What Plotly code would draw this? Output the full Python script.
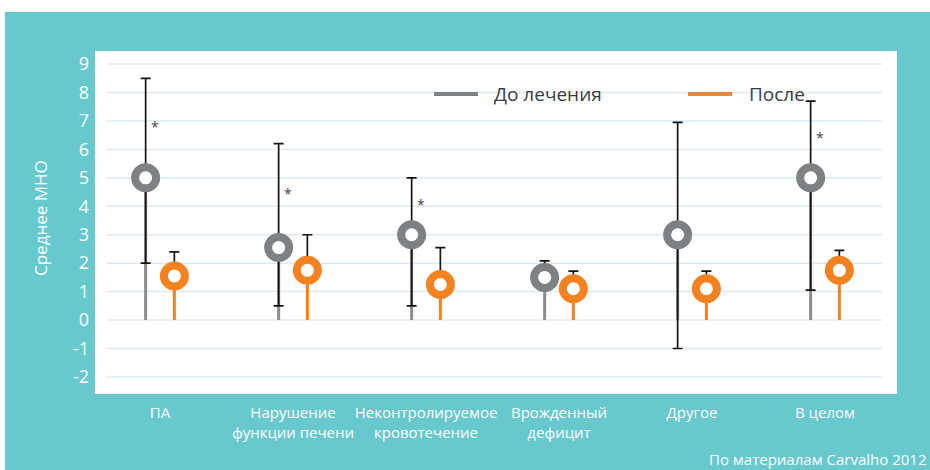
import plotly.graph_objects as go

# Categories and values (mean INR before / after treatment)
categories = ["ПА", "Нарушение<br>функции печени", "Неконтролируемое<br>кровотечение",
              "Врожденный<br>дефицит", "Другое", "В целом"]
before_mean = [5.0, 2.55, 3.0, 1.5, 3.0, 5.0]
before_upper = [8.5, 6.2, 5.0, 2.08, 6.95, 7.7]
before_lower = [2.0, 0.5, 0.5, 1.5, -1.0, 1.05]
after_mean = [1.55, 1.75, 1.25, 1.1, 1.1, 1.75]
after_upper = [2.4, 3.0, 2.55, 1.72, 1.72, 2.45]
significant = [True, True, True, False, False, True]
y_ticks = list(range(-2, 10))
y_tick_labels = [str(v) for v in y_ticks]

TEAL = "#67C8CE"
GRAY = "#7E8184"
STEM_GRAY = "#8B8C8E"
ORANGE = "#F58220"
ERR = "#151515"
FONT = "Open Sans"

# plot area in pixels: left 95, right 897, top 51, bottom 394
L, R, T, B = 95, 897, 51, 394
W, H = R - L, B - T


def px(x):
    return (x - L) / W


def py(y):
    return (B - y) / H


offset = 0.108
xb = [i - offset for i in range(len(categories))]
xa = [i + offset for i in range(len(categories))]


def stems(xs, ys):
    sx, sy = [], []
    for x, y in zip(xs, ys):
        sx += [x, x, None]
        sy += [0, y, None]
    return sx, sy


fig = go.Figure()

sx, sy = stems(xb, before_mean)
fig.add_trace(go.Scatter(x=sx, y=sy, mode="lines", line=dict(color=STEM_GRAY, width=3),
                         hoverinfo="skip", showlegend=False))
sx, sy = stems(xa, after_mean)
fig.add_trace(go.Scatter(x=sx, y=sy, mode="lines", line=dict(color=ORANGE, width=3),
                         hoverinfo="skip", showlegend=False))

fig.add_trace(go.Scatter(
    x=xb, y=before_mean, mode="markers", name="До лечения", showlegend=False,
    marker=dict(symbol="circle", size=21, color="white", line=dict(color=GRAY, width=8)),
    error_y=dict(type="data", symmetric=False,
                 array=[u - m for u, m in zip(before_upper, before_mean)],
                 arrayminus=[m - l for m, l in zip(before_mean, before_lower)],
                 color=ERR, thickness=1.7, width=5),
))
fig.add_trace(go.Scatter(
    x=xa, y=after_mean, mode="markers", name="После", showlegend=False,
    marker=dict(symbol="circle", size=21, color="white", line=dict(color=ORANGE, width=8)),
    error_y=dict(type="data", symmetric=False,
                 array=[u - m for u, m in zip(after_upper, after_mean)],
                 arrayminus=[0] * len(after_mean),
                 color=ERR, thickness=1.7, width=5),
))

shapes = []
# page frame: white strips above and left of the teal panel
shapes.append(dict(type="rect", xref="paper", yref="paper", x0=-0.3, x1=1.3,
                   y0=py(12), y1=1.3, fillcolor="white", line=dict(width=0), layer="below"))
shapes.append(dict(type="rect", xref="paper", yref="paper", x0=-0.3, x1=px(5),
                   y0=-0.5, y1=1.3, fillcolor="white", line=dict(width=0), layer="below"))
# horizontal grid lines
for v in y_ticks:
    shapes.append(dict(type="line", xref="paper", yref="y", x0=px(107), x1=px(882),
                       y0=v, y1=v, line=dict(color="#DDEAF3", width=1.5), layer="below"))
# legend swatches
shapes.append(dict(type="line", xref="paper", yref="paper", x0=px(434), x1=px(478),
                   y0=py(94), y1=py(94), line=dict(color=GRAY, width=4)))
shapes.append(dict(type="line", xref="paper", yref="paper", x0=px(688), x1=px(732),
                   y0=py(94), y1=py(94), line=dict(color="#E8873A", width=4)))

annotations = []
for i, s in enumerate(significant):
    if s:
        top = before_upper[i]
        annotations.append(dict(x=xb[i] + 0.07, y=(before_mean[i] + top) / 2 + 0.2, xref="x", yref="y",
                                text="*", showarrow=False, yshift=-4,
                                font=dict(family=FONT, size=14, color="#444444")))
annotations += [
    dict(x=px(492), y=py(94), xref="paper", yref="paper", xanchor="left", yanchor="middle",
         text="До лечения", showarrow=False, font=dict(family=FONT, size=19, color="#3C3C3C")),
    dict(x=px(747), y=py(94), xref="paper", yref="paper", xanchor="left", yanchor="middle",
         text="После", showarrow=False, font=dict(family=FONT, size=19, color="#3C3C3C")),
    dict(x=px(40), y=py(218), xref="paper", yref="paper", xanchor="center", yanchor="middle",
         textangle=-90, text="Среднее МНО", showarrow=False,
         font=dict(family=FONT, size=17, color="white")),
    dict(x=px(928), y=py(459), xref="paper", yref="paper", xanchor="right", yanchor="middle",
         text="По материалам Carvalho 2012", showarrow=False,
         font=dict(family=FONT, size=15, color="white")),
]

fig.update_layout(
    width=930, height=470,
    margin=dict(l=L, r=930 - R, t=T, b=470 - B, autoexpand=False),
    paper_bgcolor=TEAL, plot_bgcolor="white",
    shapes=shapes, annotations=annotations,
    showlegend=False,
    font=dict(family=FONT, color="white"),
)
fig.update_xaxes(range=[-65 / 133, 5 + 72 / 133], tickvals=list(range(len(categories))),
                 ticktext=categories, showgrid=False, zeroline=False, showline=False,
                 ticks="", tickangle=0, automargin=False,
                 tickfont=dict(family=FONT, size=15, color="white"),
                 ticklabelstandoff=8, fixedrange=True)
fig.update_yaxes(range=[-2.6, 9.46], tickvals=y_ticks, ticktext=y_tick_labels,
                 showgrid=False, zeroline=False, automargin=False,
                 showline=False, ticks="", tickfont=dict(family=FONT, size=18, color="white"),
                 ticklabelstandoff=5, fixedrange=True)

fig.write_html("out.html")
